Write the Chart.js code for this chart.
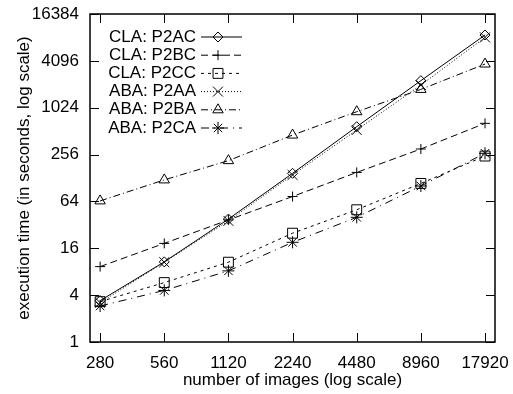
<!DOCTYPE html>
<html>
<head>
<meta charset="utf-8">
<script src="https://cdn.jsdelivr.net/npm/chart.js@4.4.1/dist/chart.umd.min.js"></script>
<style>
  html, body { margin: 0; padding: 0; background: #fff; }
</style>
</head>
<body>
<canvas id="timeChart" width="513" height="394"></canvas>
<script>
// x categories (number of images) and y tick values
const imageCounts = [280, 560, 1120, 2240, 4480, 8960, 17920];
const yTickValues = [1, 4, 16, 64, 256, 1024, 4096, 16384];

// execution times in seconds
const claP2AC = [3.4, 10.7, 38, 147, 584, 2280, 8800];
const claP2BC = [9.3, 18.5, 37, 74, 151, 302, 645];
const claP2CC = [3.3, 5.8, 10.6, 25, 50, 109, 245];
const abaP2AA = [3.2, 10.6, 36, 140, 530, 2000, 8200];
const abaP2BA = [65, 121, 214, 456, 910, 1760, 3730];
const abaP2CA = [2.9, 4.6, 8.2, 19.1, 40, 101, 266];

const FONT = { family: "'Liberation Sans', Arial, sans-serif", size: 17 };

function series(label, values, pointStyle, radius, dash) {
  return {
    label: label,
    data: values.map((v, i) => ({ x: imageCounts[i], y: v })),
    borderColor: '#000',
    borderWidth: 1,
    borderDash: dash,
    pointStyle: pointStyle,
    pointRadius: radius,
    pointHoverRadius: radius,
    pointBorderColor: '#000',
    pointBackgroundColor: 'rgba(0,0,0,0)',
    pointBorderWidth: 1,
    tension: 0,
    fill: false
  };
}

// gnuplot-like key: text right-aligned, sample line with marker after it
const keyPlugin = {
  id: 'keyBox',
  afterDatasetsDraw(chart) {
    const ctx = chart.ctx;
    const left = chart.chartArea.left;
    chart.data.datasets.forEach((ds, i) => {
      const y = 37 + i * 18.2;
      ctx.save();
      ctx.font = `${FONT.size}px ${FONT.family}`;
      ctx.fillStyle = '#000';
      ctx.textAlign = 'right';
      ctx.textBaseline = 'middle';
      ctx.fillText(ds.label, left + 106, y);
      ctx.strokeStyle = '#000';
      ctx.lineWidth = 1;
      ctx.setLineDash(ds.borderDash);
      ctx.beginPath();
      ctx.moveTo(left + 111, y);
      ctx.lineTo(left + 152, y);
      ctx.stroke();
      ctx.setLineDash([]);
      ctx.fillStyle = 'rgba(0,0,0,0)';
      Chart.helpers.drawPoint(ctx, { pointStyle: ds.pointStyle, radius: ds.pointRadius, borderWidth: 1, rotation: 0 }, left + 128, y);
      ctx.restore();
    });
  }
};

// plot frame with inward tick marks on all four sides
const framePlugin = {
  id: 'frame',
  afterDraw(chart) {
    const ctx = chart.ctx;
    const a = chart.chartArea;
    const xs = chart.scales.x, ys = chart.scales.y;
    const len = 9;
    ctx.save();
    ctx.strokeStyle = '#000';
    ctx.lineWidth = 1;
    ctx.beginPath();
    imageCounts.forEach(v => {
      const px = Math.round(xs.getPixelForValue(v)) + 0.5;
      ctx.moveTo(px, a.bottom); ctx.lineTo(px, a.bottom - len);
      ctx.moveTo(px, a.top); ctx.lineTo(px, a.top + len);
    });
    yTickValues.forEach(v => {
      const py = Math.round(ys.getPixelForValue(v)) + 0.5;
      ctx.moveTo(a.left, py); ctx.lineTo(a.left + len, py);
      ctx.moveTo(a.right, py); ctx.lineTo(a.right - len, py);
    });
    ctx.stroke();
    ctx.lineWidth = 1.5;
    ctx.strokeRect(a.left, a.top, a.right - a.left, a.bottom - a.top);
    ctx.restore();
  }
};

new Chart(document.getElementById('timeChart'), {
  type: 'line',
  data: {
    datasets: [
      series('CLA: P2AC', claP2AC, 'rectRot', 5, []),
      series('CLA: P2BC', claP2BC, 'cross', 5, [7, 4]),
      series('CLA: P2CC', claP2CC, 'rect', 7, [3, 4]),
      series('ABA: P2AA', abaP2AA, 'crossRot', 7, [1, 2]),
      series('ABA: P2BA', abaP2BA, 'triangle', 6, [7, 3, 1, 3]),
      series('ABA: P2CA', abaP2CA, 'star', 6, [8, 5, 1, 5])
    ]
  },
  options: {
    responsive: false,
    animation: false,
    layout: { autoPadding: false, padding: { top: 14, right: 18, left: 0, bottom: 0 } },
    plugins: {
      legend: { display: false },
      tooltip: { enabled: false }
    },
    scales: {
      x: {
        type: 'logarithmic',
        min: 251,
        max: 19960,
        afterBuildTicks: s => { s.ticks = imageCounts.map(v => ({ value: v })); },
        afterFit: s => {
          s.height = 52;
          s.paddingLeft = 0;
          s.paddingRight = 0;
        },
        grid: { display: false, drawTicks: false },
        border: { display: false },
        ticks: {
          callback: v => String(v),
          color: '#000',
          font: FONT,
          padding: 11,
          maxRotation: 0,
          autoSkip: false
        },
        title: {
          display: true,
          text: 'number of images (log scale)',
          color: '#000',
          font: FONT,
          padding: { top: 0, bottom: 3 }
        }
      },
      y: {
        type: 'logarithmic',
        min: 1,
        max: 16384,
        afterBuildTicks: s => { s.ticks = yTickValues.map(v => ({ value: v })); },
        afterFit: s => {
          s.width = 90;
          s.paddingTop = 0;
          s.paddingBottom = 0;
        },
        grid: { display: false, drawTicks: false },
        border: { display: false },
        ticks: {
          callback: v => String(v),
          color: '#000',
          font: FONT,
          padding: 11,
          autoSkip: false
        },
        title: {
          display: true,
          text: 'execution time (in seconds, log scale)',
          color: '#000',
          font: FONT,
          padding: { top: 14, bottom: 0 }
        }
      }
    }
  },
  plugins: [keyPlugin, framePlugin]
});
</script>
</body>
</html>
